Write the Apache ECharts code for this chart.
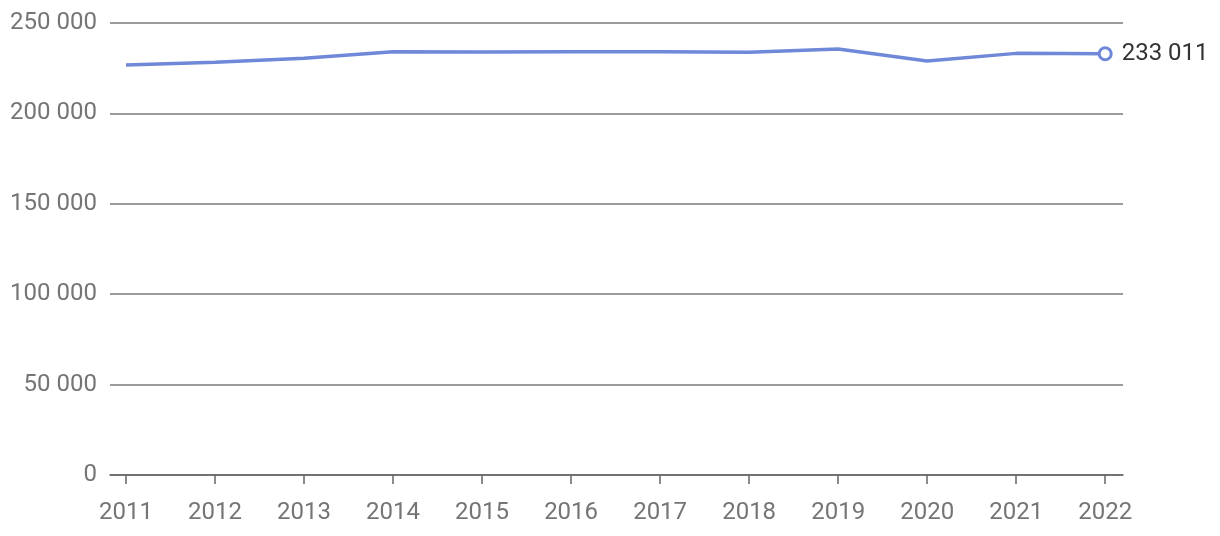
<!DOCTYPE html>
<html><head><meta charset="utf-8">
<script src="https://cdn.jsdelivr.net/npm/echarts@6/dist/echarts.min.js"></script>
<style>html,body{margin:0;padding:0;background:#fff}#c{width:1220px;height:536px}</style>
</head><body><div id="c"></div>
<script>
const years = [2011,2012,2013,2014,2015,2016,2017,2018,2019,2020,2021,2022];
const values = [226800,228300,230500,234100,234000,234100,234100,233800,235600,229000,233200,233011];
const yTicks = [0,50000,100000,150000,200000,250000];

const fmt = v => String(Math.round(v)).replace(/\B(?=(\d{3})+(?!\d))/g, ' ');
const data = years.map((y,i) => [y, values[i]]);
const lastIdx = data.length - 1;

const chart = echarts.init(document.getElementById('c'), null, {renderer:'canvas'});
chart.setOption({
  animation:false,
  grid:{left:110, right:97, top:23, bottom:61, containLabel:false},
  xAxis:{
    type:'value', min:2010.82, max:2022.2,
    splitLine:{show:false},
    axisLine:{show:true, onZero:false, lineStyle:{color:'#666', width:1.5}},
    axisTick:{show:true, length:9, customValues:years, lineStyle:{color:'#666', width:1.5}},
    axisLabel:{customValues:years, color:'#757575', fontFamily:'Roboto', fontSize:24, margin:26, formatter:v=>String(v)}
  },
  yAxis:{
    type:'value', min:yTicks[0], max:yTicks[yTicks.length-1], interval:yTicks[1]-yTicks[0],
    axisLine:{show:false}, axisTick:{show:false},
    splitLine:{lineStyle:{color:'#7a7a7a', width:1.5}},
    axisLabel:{color:'#757575', fontFamily:'Roboto', fontSize:24, margin:13, padding:[3,0,0,0], formatter:v=>fmt(v)}
  },
  series:[{
    type:'line', data:data,
    lineStyle:{color:'#6f88d8', width:3.5},
    itemStyle:{color:'#6f88d8'},
    symbol:'none',
    markPoint:{
      symbol:'circle', symbolSize:12,
      itemStyle:{color:'#fff', borderColor:'#6f88d8', borderWidth:3},
      label:{show:true, position:'right', distance:9, color:'#333', fontFamily:'Roboto', fontSize:24, formatter:p=>fmt(p.value)},
      data:[{coord:data[lastIdx], value:values[lastIdx]}]
    }
  }]
});
</script></body></html>
